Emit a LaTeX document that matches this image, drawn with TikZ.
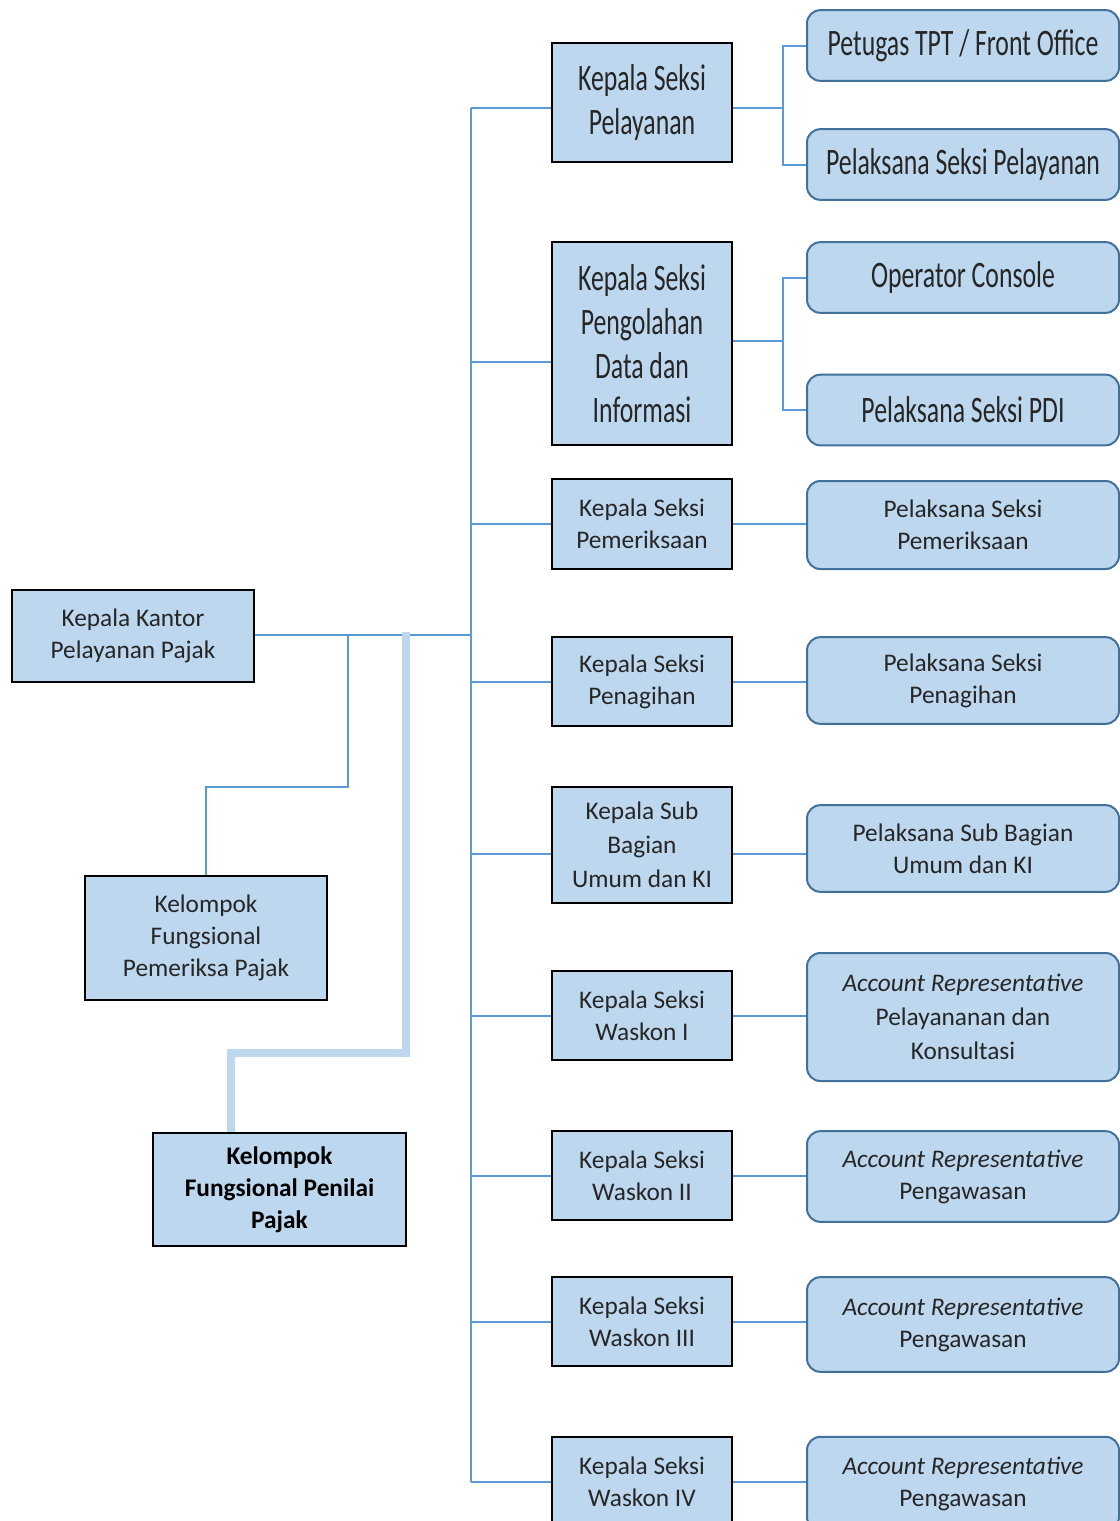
\documentclass[tikz,border=0pt]{standalone}
\usepackage{fontspec}
\setmainfont{Carlito}
\newfontfamily\narrowfam[FakeStretch=0.69]{Carlito}
\usetikzlibrary{calc,positioning}
\definecolor{boxfill}{HTML}{BDD7EE}
\definecolor{linkblue}{HTML}{5B9BD5}
\definecolor{staffline}{HTML}{41719C}
\definecolor{ink}{HTML}{262626}
\newcommand{\bodytext}{\fontsize{19}{24}\selectfont}
\newcommand{\condtext}{\narrowfam\fontsize{28}{33}\selectfont}
\tikzset{
  unit/.style={
    draw=black,
    line width=1.5pt,
    fill=boxfill,
    align=center,
    inner sep=0pt,
    text=ink,
    font=\bodytext
  },
  staff/.style={unit, draw=staffline, rounded corners=10pt},
  cond/.style={font=\condtext},
  link/.style={draw=linkblue, line width=1.5pt},
  band/.style={draw=boxfill, line width=6pt}
}
\newcommand{\ar}{\textit{Account Representative}}

\begin{document}
\begin{tikzpicture}[x=0.75pt,y=-0.75pt]
\useasboundingbox (0,0) rectangle (1120,1521);
\fill[white] (0,0) rectangle (1120,1521);

% left side
\node[unit, minimum width=181.5pt, minimum height=69pt] (kpp) at (133,636) {Kepala Kantor\\Pelayanan Pajak};
\node[unit, minimum width=181.5pt, minimum height=93pt] (kfp) at (206,938) {Kelompok\\Fungsional\\Pemeriksa Pajak};
\node[unit, minimum width=190pt, minimum height=85pt, font=\bodytext\bfseries, text=black] (kfpn) at (279.5,1189.5) {Kelompok\\Fungsional Penilai\\Pajak};

% kepala seksi column
\node[unit, cond, minimum width=135pt, minimum height=89pt] (ks1) at (642,102.5) {Kepala Seksi\\Pelayanan};
\node[unit, cond, minimum width=135pt, minimum height=152pt] (ks2) at (642,343.5) {Kepala Seksi\\Pengolahan\\Data dan\\Informasi};
\node[unit, minimum width=135pt, minimum height=67.5pt] (ks3) at (642,524) {Kepala Seksi\\Pemeriksaan};
\node[unit, minimum width=135pt, minimum height=67pt] (ks4) at (642,681.5) {Kepala Seksi\\Penagihan};
\node[unit, minimum width=135pt, minimum height=87pt, font=\fontsize{19}{25.5}\selectfont] (ks5) at (642,845) {Kepala Sub\\Bagian\\Umum dan KI};
\node[unit, minimum width=135pt, minimum height=67pt] (ks6) at (642,1015.5) {Kepala Seksi\\Waskon I};
\node[unit, minimum width=135pt, minimum height=67pt] (ks7) at (642,1175.5) {Kepala Seksi\\Waskon II};
\node[unit, minimum width=135pt, minimum height=67pt] (ks8) at (642,1321.5) {Kepala Seksi\\Waskon III};
\node[unit, minimum width=135pt, minimum height=67pt] (ks9) at (642,1481.5) {Kepala Seksi\\Waskon IV};

% pelaksana column
\node[staff, cond, minimum width=234pt, minimum height=53pt] (tpt) at (963,45.5) {Petugas TPT / Front Office};
\node[staff, cond, minimum width=234pt, minimum height=53pt] (pl1) at (963,164.5) {Pelaksana Seksi Pelayanan};
\node[staff, cond, minimum width=234pt, minimum height=53pt] (opc) at (963,277.5) {Operator Console};
\node[staff, cond, minimum width=234pt, minimum height=53pt] (pl2) at (963,410) {Pelaksana Seksi PDI};
\node[staff, minimum width=234pt, minimum height=66pt] (pl3) at (963,525) {Pelaksana Seksi\\Pemeriksaan};
\node[staff, minimum width=234pt, minimum height=65pt] (pl4) at (963,680.5) {Pelaksana Seksi\\Penagihan};
\node[staff, minimum width=234pt, minimum height=65pt] (pl5) at (963,848.5) {Pelaksana Sub Bagian\\Umum dan KI};
\node[staff, minimum width=234pt, minimum height=96pt, font=\fontsize{19}{25.5}\selectfont] (ar1) at (963,1017) {\ar\\Pelayananan dan\\Konsultasi};
\node[staff, minimum width=234pt, minimum height=68pt] (ar2) at (963,1176.5) {\ar\\Pengawasan};
\node[staff, minimum width=234pt, minimum height=71pt] (ar3) at (963,1324.5) {\ar\\Pengawasan};
\node[staff, minimum width=234pt, minimum height=70pt] (ar4) at (963,1483.5) {\ar\\Pengawasan};

% trunk
\coordinate (trunk) at (471,635);
\coordinate (j1) at (348,635);
\coordinate (j2) at (406,632);
\draw[link] (kpp.east |- trunk) -- (trunk);
\draw[link] ([yshift=-3.75pt]ks1.west -| trunk) -- (trunk |- ks9.west);
\draw[link] (j1) -- ++(0,152) -| (kfp.north);
\draw[band] (j2) -- ++(0,421) -| ([xshift=-36.4pt]kfpn.north);

\draw[link] ([yshift=-3.75pt]ks1.west -| trunk) -- ([yshift=-3.75pt]ks1.west);
\draw[link] ([yshift=-13.5pt]ks2.west -| trunk) -- ([yshift=-13.5pt]ks2.west);
\foreach \k in {3,4,6,7,8,9}
  \draw[link] (trunk |- ks\k.west) -- (ks\k.west);
\draw[link] ([yshift=-6.75pt]ks5.west -| trunk) -- ([yshift=-6.75pt]ks5.west);

% pelaksana links
\draw[link] ([yshift=-3.75pt]ks1.east) -- ++(50,0) coordinate (b1);
\draw[link] (tpt.west) -| (b1) |- (pl1.west);
\draw[link] ([yshift=2.25pt]ks2.east) -- ++(50,0) coordinate (b2);
\draw[link] (opc.west) -| (b2) |- (pl2.west);
\draw[link] (ks3.east) -- (ks3.east -| pl3.west);
\draw[link] (ks4.east) -- (ks4.east -| pl4.west);
\draw[link] ([yshift=-6.75pt]ks5.east) -- ([yshift=-6.75pt]ks5.east -| pl5.west);
\draw[link] (ks6.east) -- (ks6.east -| ar1.west);
\draw[link] (ks7.east) -- (ks7.east -| ar2.west);
\draw[link] (ks8.east) -- (ks8.east -| ar3.west);
\draw[link] (ks9.east) -- (ks9.east -| ar4.west);
\end{tikzpicture}
\end{document}
